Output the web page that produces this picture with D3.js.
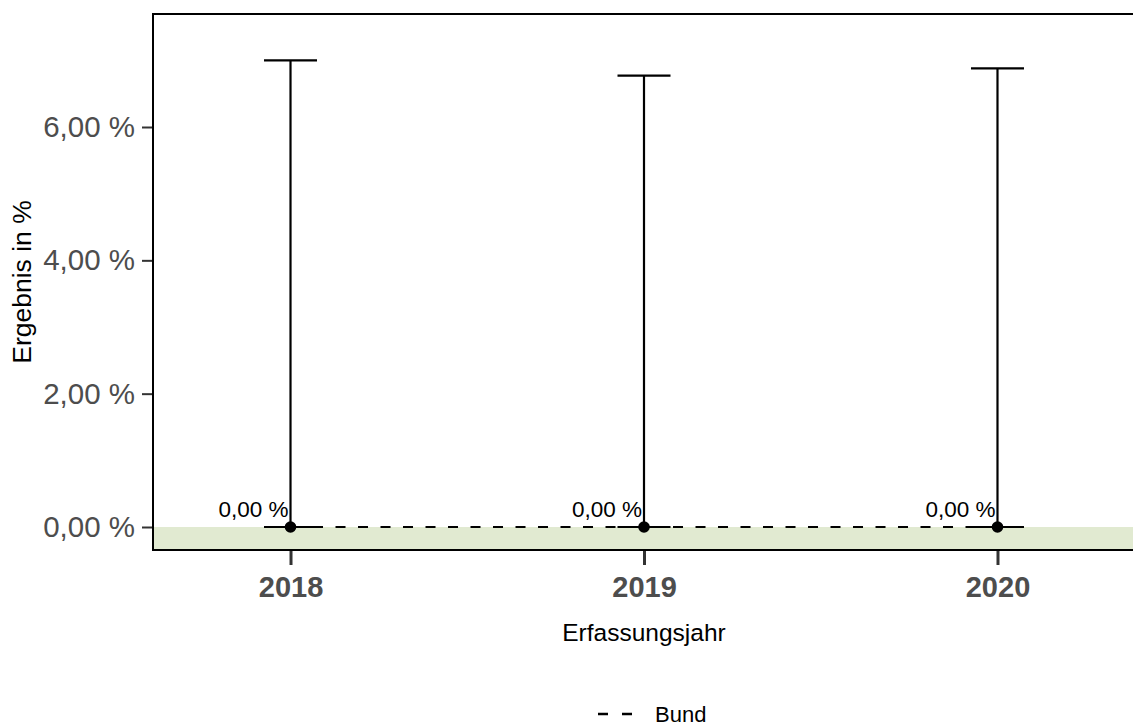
<!DOCTYPE html>
<html>
<head>
<meta charset="utf-8">
<script src="https://cdn.jsdelivr.net/npm/d3@7/dist/d3.min.js"></script>
<style>
  html, body { margin: 0; padding: 0; background: #fff; }
  svg { display: block; font-family: "Liberation Sans", Arial, Helvetica, sans-serif; }
</style>
</head>
<body>
<svg id="chart" width="1133" height="726"></svg>
<script>
// Jahre, Ergebnis und Vertrauensbereich
const years = ["2018", "2019", "2020"];
const results = [0, 0, 0];
const lowerCI = [0, 0, 0];
const upperCI = [7.00, 6.77, 6.88];
const bund = [0, 0, 0];
const yTicks = [0, 2, 4, 6];

const panel = { left: 153, top: 14, right: 1135, bottom: 550 };
const FONT = "Liberation Sans, Arial, sans-serif";

const svg = d3.select("#chart");

const x = d3.scalePoint()
  .domain(years)
  .range([panel.left, panel.right])
  .padding(0.389);

const y = d3.scaleLinear()
  .domain([-0.345, 7.695])
  .range([panel.bottom, panel.top]);

const fmt = v => d3.format(".2f")(v).replace(".", ",") + " %";

// Zielbereich-Band unterhalb 0 %
svg.append("rect")
  .attr("x", panel.left)
  .attr("y", y(0))
  .attr("width", panel.right - panel.left)
  .attr("height", panel.bottom - y(0))
  .attr("fill", "#e1ead1");

// Bundeswert
svg.append("path")
  .datum(years.map((yr, i) => [x(yr), y(bund[i])]))
  .attr("d", d3.line())
  .attr("fill", "none")
  .attr("stroke", "#000")
  .attr("stroke-width", 2.2)
  .attr("stroke-dasharray", "10,12.5");

// Vertrauensbereiche
const capHalf = 26.5;
const eb = svg.append("g").attr("stroke", "#000").attr("stroke-width", 2.2).attr("fill", "none");
years.forEach((yr, i) => {
  const cx = x(yr);
  eb.append("line").attr("x1", cx).attr("x2", cx).attr("y1", y(lowerCI[i])).attr("y2", y(upperCI[i]));
  eb.append("line").attr("x1", cx - capHalf).attr("x2", cx + capHalf).attr("y1", y(upperCI[i])).attr("y2", y(upperCI[i]));
  eb.append("line").attr("x1", cx - capHalf).attr("x2", cx + capHalf).attr("y1", y(lowerCI[i])).attr("y2", y(lowerCI[i]));
});

// Punkte
svg.append("g").selectAll("circle")
  .data(years)
  .join("circle")
  .attr("cx", d => x(d))
  .attr("cy", (d, i) => y(results[i]))
  .attr("r", 5.8)
  .attr("fill", "#000");

// Wertbeschriftungen
svg.append("g").selectAll("text")
  .data(years)
  .join("text")
  .attr("x", d => x(d) - 2)
  .attr("y", (d, i) => y(results[i]) - 10)
  .attr("text-anchor", "end")
  .attr("font-size", 22.5)
  .attr("font-family", FONT)
  .attr("fill", "#000")
  .text((d, i) => fmt(results[i]));

// Rahmen (oben, links, unten)
svg.append("path")
  .attr("d", `M${panel.right},${panel.top}H${panel.left}V${panel.bottom}H${panel.right}`)
  .attr("fill", "none")
  .attr("stroke", "#000")
  .attr("stroke-width", 2);

// y-Achse
const yAxis = svg.append("g")
  .attr("transform", `translate(${panel.left - 1},0)`)
  .call(d3.axisLeft(y).tickValues(yTicks).tickFormat(fmt).tickSize(10).tickPadding(7));
yAxis.select(".domain").remove();
yAxis.selectAll(".tick line").attr("stroke", "#333").attr("stroke-width", 2);
yAxis.selectAll(".tick text")
  .attr("fill", "#4d4d4d")
  .attr("font-size", 29.5)
  .attr("font-family", FONT);

// x-Achse
const xAxis = svg.append("g")
  .attr("transform", `translate(0,${panel.bottom + 1})`)
  .call(d3.axisBottom(x).tickSize(14).tickPadding(11));
xAxis.select(".domain").remove();
xAxis.selectAll(".tick line").attr("stroke", "#333").attr("stroke-width", 3);
xAxis.selectAll(".tick text")
  .attr("fill", "#4d4d4d")
  .attr("font-size", 29)
  .attr("font-weight", "bold")
  .attr("font-family", FONT);

// Achsentitel
svg.append("text")
  .attr("x", (panel.left + panel.right) / 2)
  .attr("y", 641)
  .attr("text-anchor", "middle")
  .attr("font-size", 24.5)
  .attr("font-family", FONT)
  .attr("fill", "#000")
  .text("Erfassungsjahr");

svg.append("text")
  .attr("transform", `translate(31,${(panel.top + panel.bottom) / 2}) rotate(-90)`)
  .attr("text-anchor", "middle")
  .attr("font-size", 26.5)
  .attr("font-family", FONT)
  .attr("fill", "#000")
  .text("Ergebnis in %");

// Legende
const lg = svg.append("g");
lg.append("line")
  .attr("x1", 598).attr("x2", 632)
  .attr("y1", 714).attr("y2", 714)
  .attr("stroke", "#000").attr("stroke-width", 2.5)
  .attr("stroke-dasharray", "10,14");
lg.append("text")
  .attr("x", 655).attr("y", 722)
  .attr("font-size", 22)
  .attr("font-family", FONT)
  .attr("fill", "#000")
  .text("Bund");
</script>
</body>
</html>
